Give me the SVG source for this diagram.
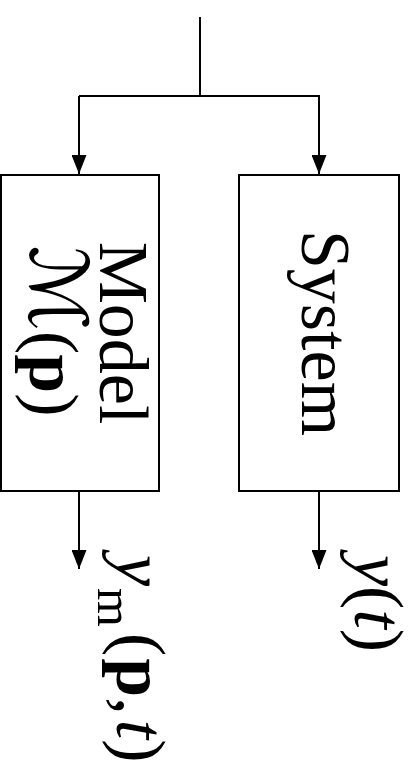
<svg xmlns="http://www.w3.org/2000/svg" width="416" height="768" viewBox="0 0 416 768">
  <style>
    .box { fill: #fff; stroke: #000; stroke-width: 2; }
    .wire { fill: none; stroke: #000; stroke-width: 2; }
    .t { font-family: "Liberation Serif", "DejaVu Serif", serif; font-size: 70px; fill: #000; }
    .it { font-style: italic; }
    .bf { font-weight: bold; }
    .cal { font-family: "DejaVu Serif", "DejaVu Sans", serif; font-size: 80px; }
  </style>
  <defs>
    <marker id="arrow" markerUnits="userSpaceOnUse" markerWidth="19" markerHeight="15" refX="19" refY="7.5" orient="auto" viewBox="0 0 19 15">
      <path d="M0,0 L19,7.5 L0,15 Z" fill="#000"/>
    </marker>
  </defs>

  <!-- connectors -->
  <g id="connectors">
    <path class="wire" d="M200,17 V96"/>
    <path class="wire" d="M79,96 H320"/>
    <path class="wire" d="M79,96 V174" marker-end="url(#arrow)"/>
    <path class="wire" d="M319,96 V174" marker-end="url(#arrow)"/>
    <path class="wire" d="M79,491 V569" marker-end="url(#arrow)"/>
    <path class="wire" d="M319,491 V569" marker-end="url(#arrow)"/>
  </g>

  <!-- model block -->
  <g id="model">
    <rect class="box" x="1" y="175" width="158" height="316"/>
    <text class="t" text-anchor="middle" transform="translate(100,333) rotate(90)">Model</text>
    <text class="t" text-anchor="middle" transform="translate(30,331) rotate(90)"><tspan class="cal">ℳ</tspan>(<tspan class="bf">p</tspan>)</text>
  </g>

  <!-- system block -->
  <g id="system">
    <rect class="box" x="239" y="175" width="160" height="316"/>
    <text class="t" text-anchor="middle" transform="translate(302,333) rotate(90)">System</text>
  </g>

  <!-- output labels -->
  <g id="model-output">
    <text class="t" transform="translate(117,555) rotate(90)"><tspan class="it">y</tspan><tspan font-size="50" dy="19" dx="2">m</tspan><tspan dy="-19" dx="6">(</tspan><tspan class="bf" dx="2">p</tspan>,<tspan class="it" dx="5">t</tspan>)</text>
  </g>
  <g id="system-output">
    <text class="t" font-size="68" transform="translate(355,555) rotate(90)"><tspan class="it">y</tspan>(<tspan class="it">t</tspan>)</text>
  </g>
</svg>
